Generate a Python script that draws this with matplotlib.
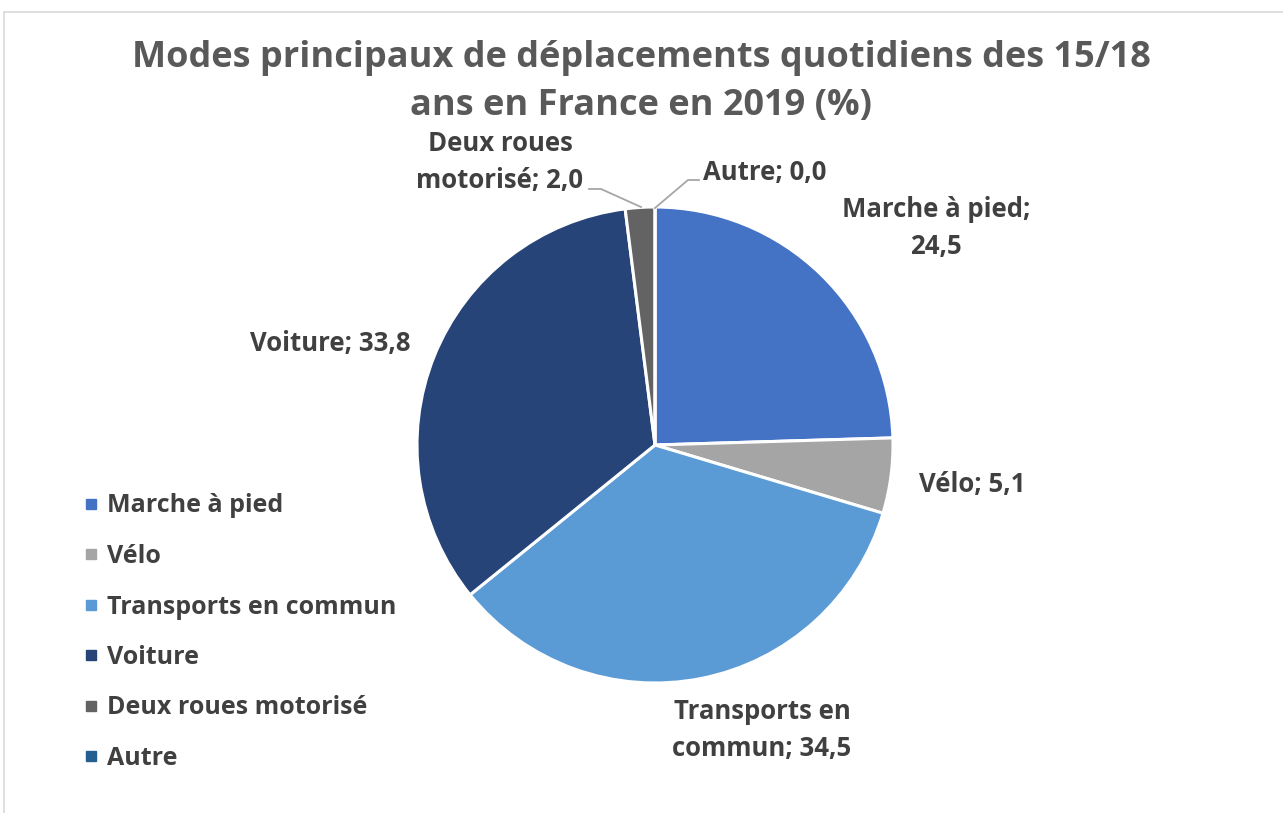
import matplotlib.pyplot as plt
from matplotlib.lines import Line2D

categories = ['Marche à pied', 'Vélo', 'Transports en commun', 'Voiture',
              'Deux roues motorisé', 'Autre']
values = [24.5, 5.1, 34.5, 33.8, 2.0, 0.0]
label_names = ['Marche à pied;\n', 'Vélo; ', 'Transports en\ncommun; ', 'Voiture; ',
               'Deux roues\nmotorisé; ', 'Autre; ']
colors = ['#4472C4', '#A5A5A5', '#5B9BD5', '#264478', '#636363', '#255E91']
title = 'Modes principaux de déplacements quotidiens des 15/18\nans en France en 2019 (%)'

W, H = 1283, 813
FONT = ['Open Sans', 'DejaVu Sans']
plt.rcParams['font.family'] = FONT
text_col = '#404040'

fig = plt.figure(figsize=(W / 100, H / 100), dpi=100)
ax = fig.add_axes([0, 0, 1, 1])

# pie centre / radius in pixel coords (y up)
cx, cy, R = 655, H - 445, 238
wedges, _ = ax.pie(values, colors=colors, startangle=90, counterclock=False,
                   center=(cx, cy), radius=R, frame=True,
                   wedgeprops=dict(edgecolor='white', linewidth=2.2))
ax.set_xlim(0, W)
ax.set_ylim(0, H)
ax.axis('off')

# label positions (pixels from top-left), alignment
label_pos = [(936, 228, 'center'), (972, 484, 'center'), (762, 730, 'center'),
             (330, 343, 'center'), (500, 162, 'center'), (703, 172, 'left')]
for name, v, (x, y, ha) in zip(label_names, values, label_pos):
    txt = name + f'{v:.1f}'.replace('.', ',')
    ax.text(x, H - y, txt, ha=ha, va='center', fontsize=18.5, fontweight='bold',
            color=text_col, linespacing=1.45)

# leader lines for small slices
ax.plot([589, 601, 641], [H - 189, H - 189, H - 207], color='#A6A6A6', lw=1.3)
ax.plot([655, 688, 699], [H - 208, H - 180, H - 180], color='#A6A6A6', lw=1.3)

fig.text(0.5, 1 - 82 / H, title, ha='center', va='center', fontsize=26,
         fontweight='bold', color='#595959', linespacing=1.42)

handles = [Line2D([], [], marker='s', ls='none', color=c, markersize=7.5) for c in colors]
leg = fig.legend(handles, categories, loc='upper left',
                 bbox_to_anchor=(68 / W, 1 - 476 / H), frameon=False,
                 handlelength=0.45, handletextpad=0.4, labelspacing=1.02,
                 borderpad=0.2,
                 prop=dict(family=FONT, weight='bold', size=18))
for t in leg.get_texts():
    t.set_color(text_col)

# chart border
ax.plot([4, W], [H - 12, H - 12], color='#D9D9D9', lw=1.2)
ax.plot([4, 4], [H - 12, 0], color='#D9D9D9', lw=1.2)

fig.savefig('out.png', dpi=100, facecolor='white')
